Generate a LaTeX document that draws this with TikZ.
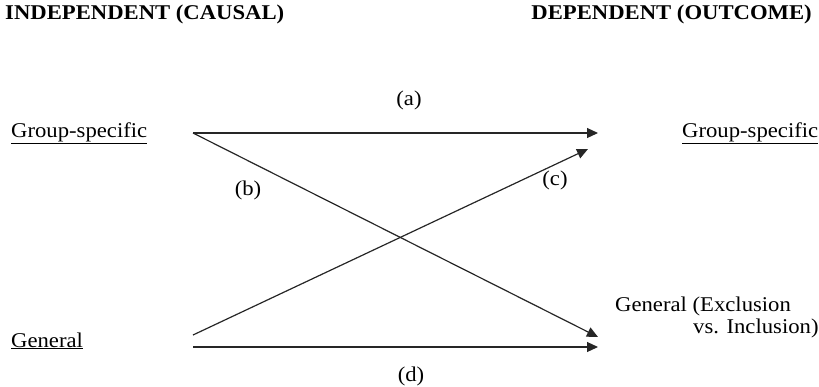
\documentclass[tikz,border=0pt]{standalone}
\usepackage{fontspec}
\setmainfont{Liberation Serif}[FakeStretch=1.08]
\usepackage{tikz}
\usetikzlibrary{arrows.meta, positioning}

\tikzset{
  headtext/.style={font=\fontsize{21}{22}\selectfont\bfseries, inner sep=0pt},
  vartext/.style={font=\fontsize{21}{22}\selectfont, inner sep=0pt, anchor=base west},
  pathlabel/.style={font=\fontsize{21}{22}\selectfont, inner sep=0pt},
  effect/.style={line width=1.2pt, draw=black!85, -{Triangle[length=11pt, width=10pt]}}
}

\begin{document}
\begin{tikzpicture}[x=1pt, y=-1pt]
  \useasboundingbox (0,0) rectangle (819,386);

  % column heads
  \node[headtext, anchor=west] (headind) at (5,14) {INDEPENDENT (CAUSAL)};
  \node[headtext, anchor=east] (headdep) at (812,14) {DEPENDENT (OUTCOME)};

  % variables
  \node[vartext] (indgroup) at (11,137) {\underline{Group-specific}};
  \node[vartext] (indgen) at (11,347) {\underline{General}};
  \node[vartext] (depgroup) at (682,137) {\underline{Group-specific}};
  \node[vartext, align=left] (depgen) at (615,333) {General (Exclusion\\\hspace*{78pt}vs. Inclusion)};

  % line ends
  \coordinate (groupout) at (193,133);
  \coordinate (genout) at (193,347);
  \coordinate (genoutc) at (193,335);
  \coordinate (groupin) at (598,133);
  \coordinate (groupinc) at (588,149);
  \coordinate (genin) at (598,337);
  \coordinate (genind) at (598,347);

  \draw[effect] (groupout) -- (groupin);
  \draw[effect] (groupout) -- (genin);
  \draw[effect] (genoutc) -- (groupinc);
  \draw[effect] (genout) -- (genind);

  % path letters
  \foreach \l/\x/\y in {a/409/100, b/248/190, c/555/180, d/411/376}
    \node[pathlabel] (path\l) at (\x,\y) {(\l)};
\end{tikzpicture}
\end{document}
